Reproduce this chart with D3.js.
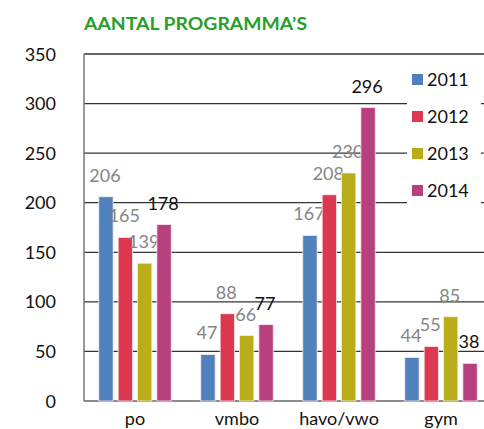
<!DOCTYPE html>
<html>
<head>
<meta charset="utf-8">
<script src="https://cdn.jsdelivr.net/npm/d3@7"></script>
<style>
  body { margin: 0; background: #fff; }
  svg { display: block; font-family: 'Lato', sans-serif; }
</style>
</head>
<body>
<div id="chart"></div>
<script>
// data
var categories = ['po', 'vmbo', 'havo/vwo', 'gym'];
var years = ['2011', '2012', '2013', '2014'];
var values2011 = [206, 47, 167, 44];
var values2012 = [165, 88, 208, 55];
var values2013 = [139, 66, 230, 85];
var values2014 = [178, 77, 296, 38];
var yTicks = [0, 50, 100, 150, 200, 250, 300, 350];

var colors = ['#4f81bd', '#dc3850', '#b9ae19', '#b9407f'];
var labelColors = ['#858585', '#858585', '#858585', '#111'];

var series = [values2011, values2012, values2013, values2014];

var width = 484, height = 429;
var margin = {top: 54, right: -8, bottom: 28, left: 84};

var svg = d3.select('#chart').append('svg')
  .attr('width', width).attr('height', height);

var x0 = d3.scaleBand()
  .domain(categories)
  .range([margin.left, width - margin.right])
  .paddingInner(0.29).paddingOuter(0.145);

var x1 = d3.scaleBand()
  .domain(years)
  .range([0, x0.bandwidth()])
  .paddingInner(0.26);

var y = d3.scaleLinear()
  .domain([0, 350])
  .range([height - margin.bottom, margin.top]);

// title
svg.append('text')
  .attr('x', 84).attr('y', 30)
  .attr('fill', '#27a02b')
  .attr('font-weight', 'bold')
  .attr('font-size', 16.5)
  .attr('textLength', 223)
  .attr('lengthAdjust', 'spacingAndGlyphs')
  .text('AANTAL PROGRAMMA\u2019S');

// gridlines
svg.append('g').selectAll('line')
  .data(yTicks.slice(1)).enter()
  .append('line')
  .attr('x1', margin.left).attr('x2', width)
  .attr('y1', function(d) { return y(d); })
  .attr('y2', function(d) { return y(d); })
  .attr('stroke', '#333').attr('stroke-width', 1.3);

// y tick labels
svg.append('g').selectAll('text')
  .data(yTicks).enter()
  .append('text')
  .attr('x', 56)
  .attr('y', function(d) { return y(d) + 6.5; })
  .attr('text-anchor', 'end')
  .attr('font-size', 18)
  .attr('fill', '#111')
  .text(function(d) { return d; });

// axes lines
svg.append('line')
  .attr('x1', margin.left).attr('x2', margin.left)
  .attr('y1', y(350)).attr('y2', y(0))
  .attr('stroke', '#777').attr('stroke-width', 1.5);
svg.append('line')
  .attr('x1', margin.left).attr('x2', width)
  .attr('y1', y(0)).attr('y2', y(0))
  .attr('stroke', '#666').attr('stroke-width', 1.5);

// bars
var groups = svg.append('g').selectAll('g')
  .data(series).enter()
  .append('g');

groups.selectAll('rect')
  .data(function(d, i) { return d.map(function(v, j) { return {v: v, cat: categories[j], yr: i}; }); })
  .enter().append('rect')
  .attr('x', function(d) { return x0(d.cat) + x1(years[d.yr]); })
  .attr('y', function(d) { return y(d.v); })
  .attr('width', x1.bandwidth())
  .attr('height', function(d) { return y(0) - y(d.v); })
  .attr('fill', function(d) { return colors[d.yr]; })
  .attr('stroke', '#fbe9ee').attr('stroke-width', 0.8);

// value labels
groups.selectAll('text')
  .data(function(d, i) { return d.map(function(v, j) { return {v: v, cat: categories[j], yr: i}; }); })
  .enter().append('text')
  .attr('x', function(d) { return x0(d.cat) + x1(years[d.yr]) + x1.bandwidth() / 2 - 1; })
  .attr('y', function(d) { return y(d.v) - 15; })
  .attr('text-anchor', 'middle')
  .attr('font-size', 18)
  .attr('fill', function(d) { return labelColors[d.yr]; })
  .text(function(d) { return d.v; });

// category labels
svg.append('g').selectAll('text')
  .data(categories).enter()
  .append('text')
  .attr('x', function(d) { return x0(d) + x0.bandwidth() / 2; })
  .attr('y', 425)
  .attr('text-anchor', 'middle')
  .attr('font-size', 18)
  .attr('fill', '#111')
  .text(function(d) { return d; });

// legend
var legend = svg.append('g');
legend.append('rect')
  .attr('x', 407).attr('y', 62).attr('width', 74).attr('height', 152)
  .attr('fill', '#fff');
var items = legend.selectAll('g.item')
  .data(years).enter()
  .append('g').attr('class', 'item')
  .attr('transform', function(d, i) { return 'translate(412,' + (74 + i * 37) + ')'; });
items.append('rect')
  .attr('width', 11).attr('height', 11)
  .attr('fill', function(d, i) { return colors[i]; });
items.append('text')
  .attr('x', 15).attr('y', 12)
  .attr('font-size', 18)
  .attr('fill', '#111')
  .text(function(d) { return d; });
</script>
</body>
</html>
